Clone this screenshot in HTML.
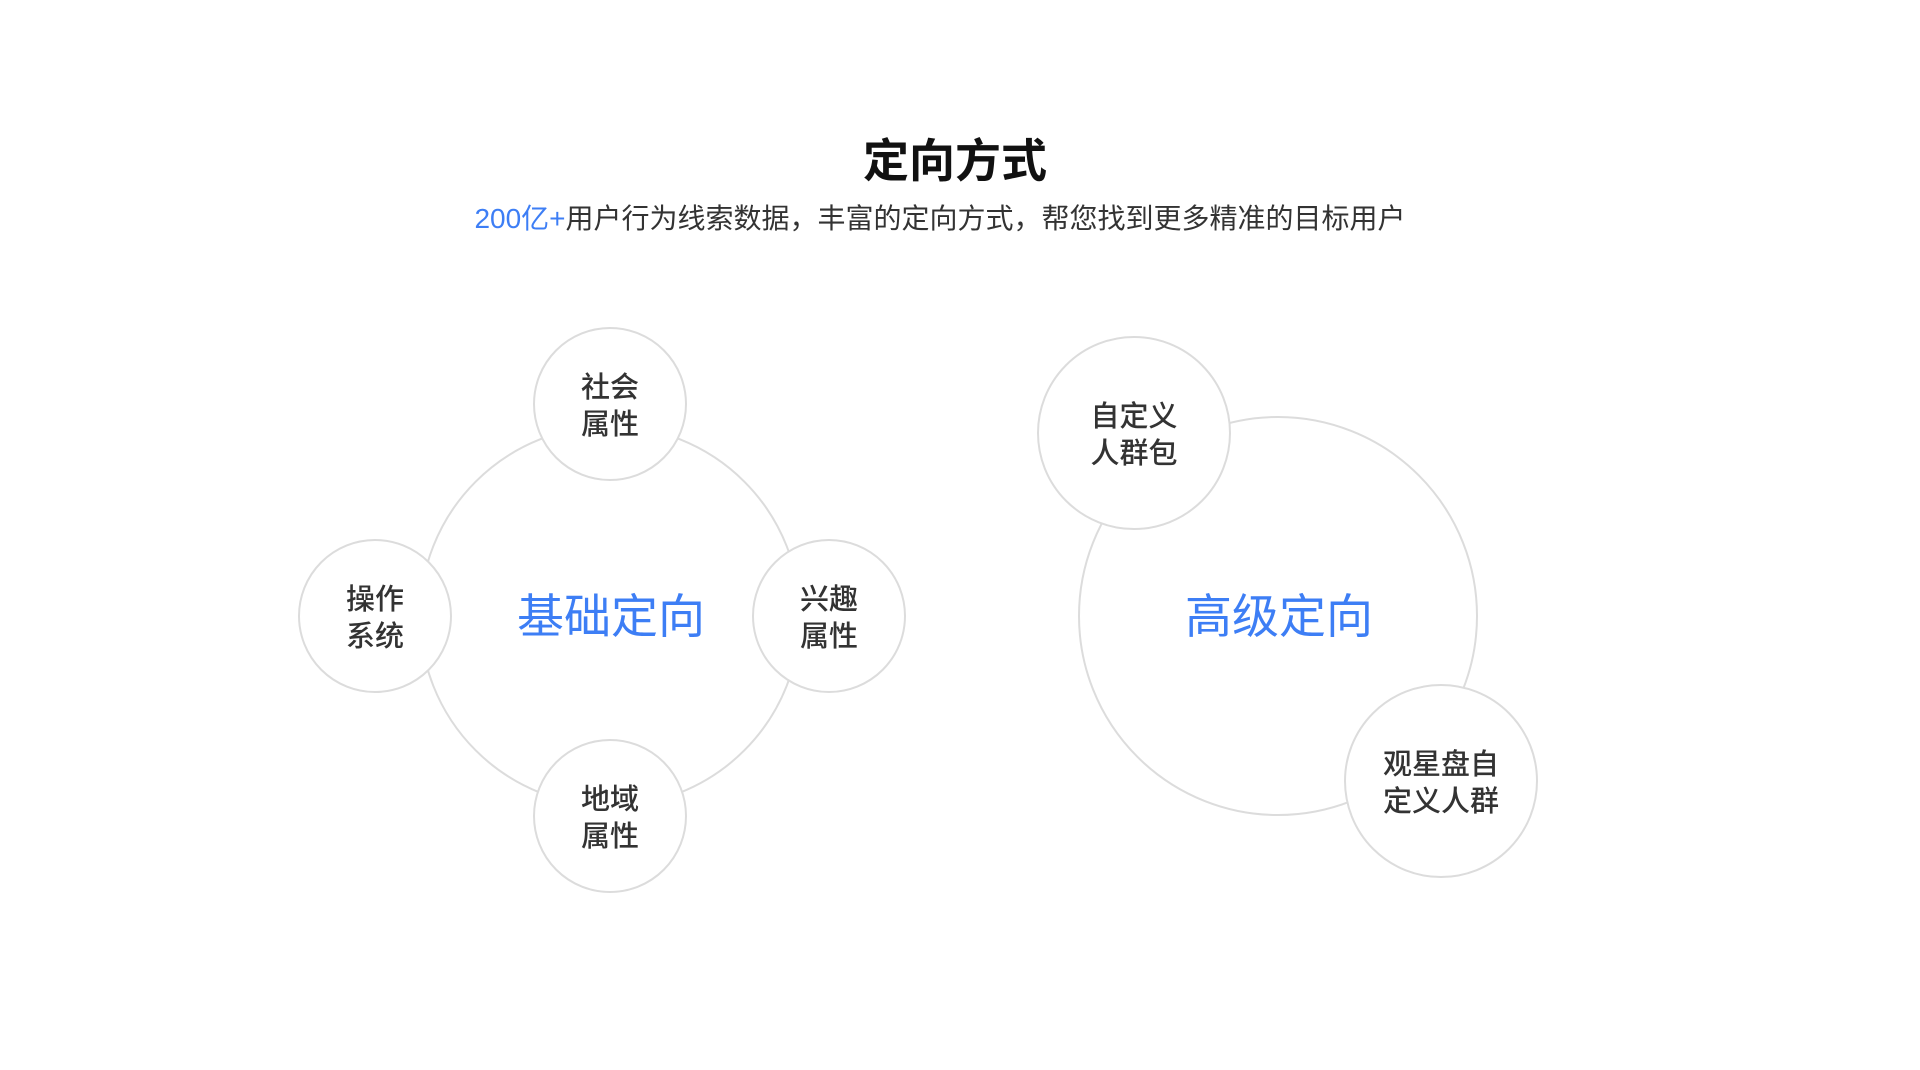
<!DOCTYPE html>
<html><head><meta charset="utf-8"><style>
html,body{margin:0;padding:0;background:#fff;}
body{width:1920px;height:1070px;position:relative;overflow:hidden;font-family:"Liberation Sans","Noto Sans CJK SC",sans-serif;}
.t{position:absolute;left:0;width:1920px;text-align:center;}
</style></head><body>
<div class="t" style="top:132px;font-size:46px;font-weight:bold;color:#111;line-height:58px;left:-5px">定向方式</div>
<div class="t" style="top:200px;font-size:28px;color:#333;line-height:38px;left:-20px"><span style="color:#3d7ef5">200亿+</span>用户行为线索数据，丰富的定向方式，帮您找到更多精准的目标用户</div>
<svg width="1920" height="1070" style="position:absolute;left:0;top:0" font-family="Liberation Sans, Noto Sans CJK SC, sans-serif">
<g fill="#fff" stroke="#dcdcdc" stroke-width="2">
<circle cx="610" cy="616" r="190"/>
<circle cx="610" cy="404" r="76"/>
<circle cx="375" cy="616" r="76"/>
<circle cx="829" cy="616" r="76"/>
<circle cx="610" cy="816" r="76"/>
<circle cx="1278" cy="616" r="199"/>
<circle cx="1134" cy="433" r="96"/>
<circle cx="1441" cy="781" r="96"/>
</g>
<g fill="#3d7ef5" font-size="47" text-anchor="middle">
<text x="611" y="633">基础定向</text>
<text x="1279" y="633">高级定向</text>
</g>
<g fill="#333" font-size="29" font-weight="500" text-anchor="middle">
<text x="610" y="397">社会</text><text x="610" y="434">属性</text>
<text x="375" y="609">操作</text><text x="375" y="646">系统</text>
<text x="829" y="609">兴趣</text><text x="829" y="646">属性</text>
<text x="610" y="809">地域</text><text x="610" y="846">属性</text>
<text x="1134" y="426">自定义</text><text x="1134" y="463">人群包</text>
<text x="1441" y="774">观星盘自</text><text x="1441" y="811">定义人群</text>
</g>
</svg>
</body></html>
